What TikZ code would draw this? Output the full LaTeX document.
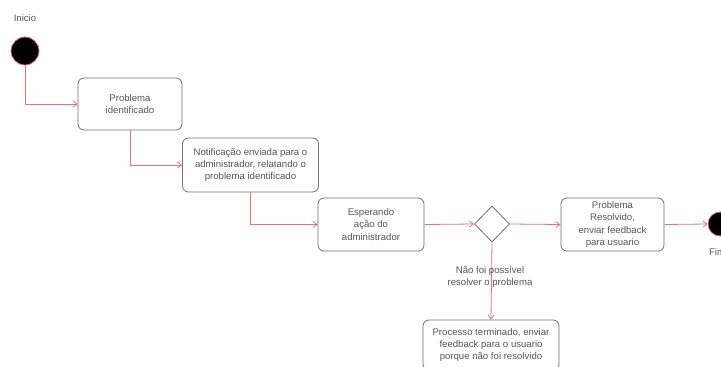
\documentclass[tikz,border=0pt]{standalone}
\usepackage{fontspec}
\setmainfont{Liberation Sans}
\usetikzlibrary{arrows.meta,shapes.geometric}
\definecolor{linered}{HTML}{E57373}
\definecolor{boxgray}{HTML}{707070}
\definecolor{txtgray}{HTML}{555555}
\begin{document}
\begin{tikzpicture}[x=1pt,y=-1pt,
  actbox/.style={draw=boxgray,line width=0.8pt,rounded corners=6pt,fill=white,
    inner sep=0pt,align=center,text=txtgray,font=\fontsize{9.6}{12.2}\selectfont},
  flow/.style={draw=linered,line width=0.8pt,-{Straight Barb[length=4pt,width=6pt]}},
  lbl/.style={text=txtgray,font=\fontsize{9.6}{12.2}\selectfont,align=center,inner sep=0pt},
  startnode/.style={circle,fill=black,draw=linered,line width=0.8pt,minimum size=28pt,inner sep=0pt},
  endnode/.style={circle,fill=black,draw=linered,line width=0.8pt,minimum size=24pt,inner sep=0pt},
  decision/.style={diamond,draw=boxgray,line width=0.8pt,fill=white,minimum width=35pt,minimum height=36pt,inner sep=0pt}]
\useasboundingbox (0,0) rectangle (721,367);
\fill[white] (0,0) rectangle (721,367);

\node[lbl] (inicio) at (25,18) {Inicio};
\node[startnode] (start) at (25,51) {};

\node[actbox,minimum width=104pt,minimum height=52pt] (b1) at (130,104) {Problema\\identificado};
\node[actbox,minimum width=136pt,minimum height=54pt] (b2) at (250.5,165) {Notificação enviada para o\\administrador, relatando o\\problema identificado};
\node[actbox,minimum width=106pt,minimum height=53pt] (b3) at (371,224.5) {Esperando\\ação do\\administrador};
\node[decision] (d) at (492,224) {};
\node[actbox,minimum width=103pt,minimum height=53pt] (b4) at (612.5,224.5) {Problema\\Resolvido,\\enviar feedback\\para usuario};
\node[endnode] (fim) at (720,224) {};
\node[lbl] (fimlbl) at (717,252) {Fim};
\node[actbox,minimum width=136pt,minimum height=50pt] (b5) at (491,345) {Processo terminado, enviar\\feedback para o usuario\\porque não foi resolvido};

\coordinate (c1) at (25,104);
\coordinate (c2) at (130,165);
\coordinate (c3) at (250.5,224.5);

\draw[flow] (start.south) -- (c1) -- (b1.west);
\draw[flow] (b1.south) -- (c2) -- (b2.west);
\draw[flow] (b2.south) -- (c3) -- (b3.west);
\draw[flow] (b3.east) -- (d.west);
\draw[flow] (d.east) -- (b4.west);
\draw[flow] (b4.east) -- (fim.west);
\draw[flow] (d.south) -- (b5.north);
\node[lbl] (naolbl) at (490,277) {Não foi possível\\resolver o problema};
\end{tikzpicture}
\end{document}
